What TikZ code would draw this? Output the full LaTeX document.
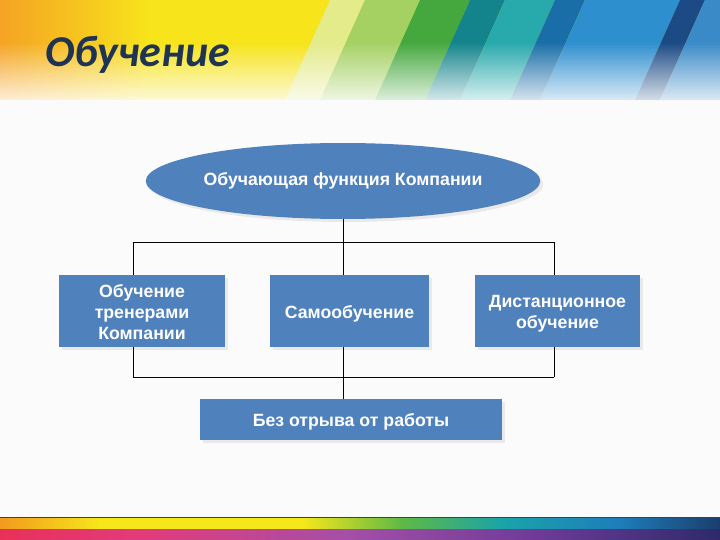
\documentclass[tikz,border=0pt]{standalone}
\usepackage{fontspec}
\setmainfont{Liberation Sans}
\newfontfamily\titlefont{Carlito}
\usetikzlibrary{shapes.geometric,fadings,shadows}
\definecolor{boxblue}{HTML}{4F81BD}
\definecolor{titleblue}{HTML}{1F3352}
\definecolor{bodybg}{HTML}{FBFBFB}
\definecolor{hOrange}{HTML}{F5A323}
\definecolor{hYellow}{HTML}{F7E41B}
\definecolor{sA}{HTML}{E4EB8A}
\definecolor{sB}{HTML}{A5D163}
\definecolor{sC}{HTML}{45A83F}
\definecolor{sD}{HTML}{14848C}
\definecolor{sE}{HTML}{28A9AC}
\definecolor{sF}{HTML}{1A6EA8}
\definecolor{sG}{HTML}{2E8FCF}
\definecolor{sH}{HTML}{1B4A85}
\definecolor{sI}{HTML}{3A8AC8}
\definecolor{rtA}{HTML}{F39A1E}
\definecolor{rtB}{HTML}{F6E71B}
\definecolor{rtC}{HTML}{5DB946}
\definecolor{rtD}{HTML}{1AA3A9}
\definecolor{rtE}{HTML}{1E7DBA}
\definecolor{rtF}{HTML}{1A3E6E}
\definecolor{rbA}{HTML}{E8315A}
\definecolor{rbB}{HTML}{E23B7C}
\definecolor{rbC}{HTML}{A54FA8}
\definecolor{rbD}{HTML}{6A3A96}
\definecolor{rbE}{HTML}{2E2A6A}
\definecolor{darkline}{HTML}{404040}
\tikzfading[name=fadedown, top color=transparent!100, bottom color=transparent!0]
\pgfdeclarehorizontalshading{rainbowtop}{100bp}{color(0bp)=(rtA); color(25bp)=(rtA); color(32bp)=(rtB); color(46bp)=(rtB); color(53bp)=(rtC); color(60bp)=(rtD); color(68bp)=(rtE); color(75bp)=(rtF); color(100bp)=(rtF)}
\pgfdeclarehorizontalshading{rainbowbot}{100bp}{color(0bp)=(rbA); color(25bp)=(rbA); color(35bp)=(rbB); color(49bp)=(rbC); color(63bp)=(rbD); color(75bp)=(rbE); color(100bp)=(rbE)}
\begin{document}
\begin{tikzpicture}[x=1pt,y=-1pt,
  boxfont/.style={font=\bfseries\fontsize{17.7}{21}\selectfont},
  shadowed/.style={drop shadow={shadow xshift=3pt, shadow yshift=-3pt, opacity=0.07, fill=black}},
  bluebox/.style={rectangle, fill=boxblue, inner sep=0pt, shadowed},
  boxtext/.style={text=white, inner sep=0pt, align=center, boxfont},
  topellipse/.style={ellipse, fill=boxblue, text=white, inner sep=0pt, boxfont,
    minimum width=307pt, minimum height=76pt, shadowed},
  link/.style={draw=black, line width=1pt}]
\useasboundingbox (0,0) rectangle (720,540);
% background
\fill[bodybg] (0,0) rectangle (720,540);
% header
\fill[hYellow] (0,0) rectangle (720,100);
\shade[left color=hOrange, right color=hYellow] (0,0) rectangle (150,100);
\fill[sA] (330,0) -- (365,0) -- (320,100) -- (285,100) -- cycle;
\fill[sB] (365,0) -- (420,0) -- (375,100) -- (320,100) -- cycle;
\fill[sC] (420,0) -- (470,0) -- (425,100) -- (375,100) -- cycle;
\fill[sD] (470,0) -- (505,0) -- (460,100) -- (425,100) -- cycle;
\fill[sE] (505,0) -- (555,0) -- (510,100) -- (460,100) -- cycle;
\fill[sF] (555,0) -- (585,0) -- (540,100) -- (510,100) -- cycle;
\fill[sG] (585,0) -- (680,0) -- (635,100) -- (540,100) -- cycle;
\fill[sH] (680,0) -- (705,0) -- (660,100) -- (635,100) -- cycle;
\fill[sI] (705,0) -- (770,0) -- (725,100) -- (660,100) -- cycle;
\fill[white, fill opacity=0.82, path fading=fadedown] (0,42) rectangle (720,100);
% title
\node[anchor=base west, inner sep=0pt, text=titleblue,
  font=\titlefont\bfseries\itshape\fontsize{44}{50}\selectfont] (title) at (45,67) {Обучение};
% bottom strip
\fill[darkline] (0,516.5) rectangle (720,518.5);
\shade[shading=rainbowtop] (0,518.5) rectangle (720,529);
\shade[shading=rainbowbot] (0,529) rectangle (720,540);
% nodes
\node[topellipse] (top) at (343,181) {Обучающая функция Компании};
\node[bluebox, minimum width=166pt, minimum height=72pt] (b1) at (142,311) {};
\node[bluebox, minimum width=159pt, minimum height=72pt] (b2) at (349.5,311) {};
\node[bluebox, minimum width=165pt, minimum height=72pt] (b3) at (557.5,311) {};
\node[bluebox, minimum width=302pt, minimum height=41pt] (bot) at (351,419.5) {};
\node[boxtext] (b1t) at ([yshift=-1pt]b1.center) {Обучение\\тренерами\\Компании};
\node[boxtext] (b2t) at ([yshift=-2.5pt]b2.center) {Самообучение};
\node[boxtext] (b3t) at ([yshift=-2.5pt]b3.center) {Дистанционное\\обучение};
\node[boxtext] (bott) at ([yshift=-2pt]bot.center) {Без отрыва от работы};
% connector coordinates
\coordinate (tl) at (133,242);
\coordinate (tc) at (343,242);
\coordinate (tr) at (554,242);
\coordinate (bl) at (133,377);
\coordinate (bc) at (343,377);
\coordinate (br) at (554,377);
% connectors
\draw[link] (top.south) -- (tc);
\draw[link] (tl) -- (tr);
\draw[link] (tl) -- (tl |- b1.north);
\draw[link] (tc) -- (tc |- b2.north);
\draw[link] (tr) -- (tr |- b3.north);
\draw[link] (bl |- b1.south) -- (bl);
\draw[link] (br |- b3.south) -- (br);
\draw[link] (bl) -- (br);
\draw[link] (bc |- b2.south) -- (bc |- bot.north);
\end{tikzpicture}
\end{document}
